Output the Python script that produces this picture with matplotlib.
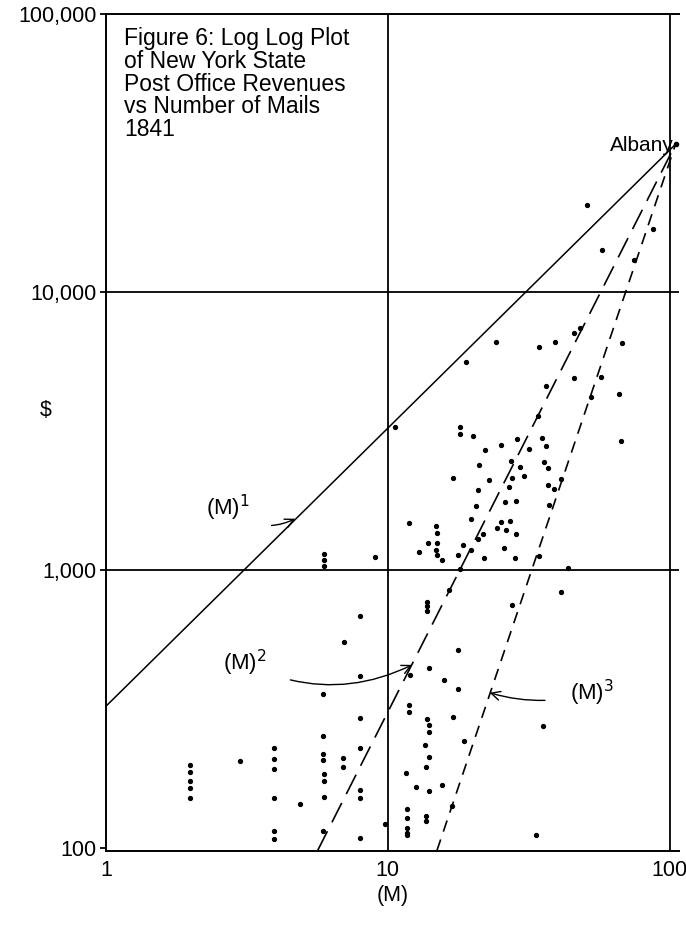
import numpy as np
import matplotlib.pyplot as plt

plt.rcParams['font.family'] = ['Liberation Sans', 'DejaVu Sans']

# ---- data ----
# number of mails (M) and post office revenue ($) for each office
mails = [
    50.8, 87, 57.8, 75,
    24.2, 18.9, 10.6, 34.5, 39.1, 45.7, 48.0, 67.7, 36.4, 45.9, 57.3, 52.8,
    66.3, 34.1, 67.4, 18.1, 18.0, 20.0, 25.2, 28.7, 35.3, 36.5, 22.1, 31.8,
    21.0, 27.4, 29.4, 35.8, 36.9, 17.0, 22.8, 27.7, 30.4, 41.1, 26.9, 20.9,
    37.0, 38.8, 26.0, 28.4, 20.5, 37.4, 19.8, 11.9, 14.8, 14.9, 25.2, 27.2,
    24.5, 26.3, 28.6, 21.7, 20.9, 13.9, 14.9, 18.5, 14.8, 12.9, 14.9, 17.7,
    19.8, 25.9, 15.6, 21.9, 28.2, 34.3, 18.0, 43.6,
    5.93, 5.93, 5.93, 9.02,
    7.96, 6.97, 8.0, 5.9, 7.98, 5.89, 7.98, 3.95, 3.95, 3.95, 2.98, 5.89,
    5.89, 6.95, 6.95, 5.96, 5.96, 5.96, 7.98, 7.98, 1.98, 1.98, 1.98, 1.98,
    1.98, 3.95, 4.88, 3.95, 3.95, 5.89, 7.98, 9.78,
    41.2, 16.5, 13.8, 13.8, 13.8, 27.7, 17.7, 14.0, 11.95, 15.8, 17.7, 11.85,
    11.85, 17.0, 35.6, 13.8, 14.0, 14.0, 18.6, 13.5, 14.0, 13.7, 11.6, 12.6,
    15.6, 14.0, 16.9, 11.7, 11.7, 11.7, 11.7, 11.7, 13.7, 13.7, 33.7,
]
revenue = [
    20500, 16900, 14200, 13000,
    6630, 5600, 3275, 6325, 6610, 7145, 7400, 6580, 4580, 4920, 4960, 4180,
    4300, 3580, 2920, 3275, 3085, 3040, 2815, 2950, 2990, 2800, 2700, 2735,
    2385, 2470, 2345, 2445, 2330, 2145, 2105, 2145, 2180, 2130, 1990, 1935,
    2020, 1960, 1760, 1775, 1695, 1710, 1525, 1475, 1445, 1360, 1490, 1500,
    1420, 1395, 1350, 1350, 1295, 1250, 1250, 1235, 1185, 1160, 1135, 1130,
    1185, 1205, 1085, 1105, 1105, 1120, 1010, 1015,
    1145, 1085, 1030, 1110,
    681, 553, 415, 358, 294, 253, 230, 229, 209, 192, 206, 218,
    207, 211, 196, 184, 174, 153, 162, 152, 199, 188, 174, 164,
    151, 151, 144, 115, 108, 115, 109, 122,
    837, 848, 770, 740, 714, 750, 515, 446, 418, 402, 374, 326,
    309, 297, 274, 291, 277, 261, 242, 235, 213, 196, 186, 166,
    168, 161, 142, 138, 128, 118, 113, 111, 130, 125, 111,
]

albany_m = 105
albany_rev = 34000

y_ticks = [100, 1000, 10000, 100000]
y_labels = ['100', '1,000', '10,000', '100,000']
x_ticks = [1, 10, 100]
x_labels = ['1', '10', '100']

title = "Figure 6: Log Log Plot\nof New York State\nPost Office Revenues\nvs Number of Mails\n1841"

# ---- figure ----
fig = plt.figure(figsize=(6.86, 9.26), dpi=100)
ax = fig.add_axes([0.1545, 0.0815, 0.8353, 0.9034])
ax.set_xscale('log')
ax.set_yscale('log')
ax.set_xlim(1, 108)
ax.set_ylim(98, 100000)

# grid lines at the decades
for xv in [10, 100]:
    ax.axvline(xv, color='black', lw=1.3, zorder=1)
for yv in [1000, 10000]:
    ax.axhline(yv, color='black', lw=1.3, zorder=1)

# reference lines M^1, M^2, M^3 through Albany
def power_line(p, lo):
    m = np.geomspace(lo, albany_m, 200)
    return m, albany_rev * (m / albany_m) ** p

m1, r1 = power_line(1, 1)
ax.plot(m1, r1, color='black', lw=1.1)
m2, r2 = power_line(2, albany_m * (98 / albany_rev) ** 0.5)
ax.plot(m2, r2, color='black', lw=1.2, dashes=(13, 6))
m3, r3 = power_line(3, albany_m * (98 / albany_rev) ** (1 / 3))
ax.plot(m3, r3, color='black', lw=1.2, dashes=(7, 5))

ax.plot(mails, revenue, 'o', color='black', ms=2.8, zorder=3)
ax.plot([albany_m], [albany_rev], 'o', color='black', ms=3)
ax.text(albany_m * 0.985, albany_rev * 0.99, 'Albany', ha='right', va='center', fontsize=15)

# handwritten-style labels with arrows
ax.annotate('(M)$^1$', xy=(4.7, 1530), xytext=(2.7, 1680), fontsize=16,
            ha='center', va='center',
            arrowprops=dict(arrowstyle='->', color='black', lw=1,
                            connectionstyle='arc3,rad=0.35', shrinkA=14, shrinkB=0))
ax.annotate('(M)$^2$', xy=(12.2, 456), xytext=(3.1, 465), fontsize=16,
            ha='center', va='center',
            arrowprops=dict(arrowstyle='->', color='black', lw=1,
                            connectionstyle='arc3,rad=0.25', shrinkA=16, shrinkB=0))
ax.annotate('(M)$^3$', xy=(23.0, 362), xytext=(53, 362), fontsize=16,
            ha='center', va='center',
            arrowprops=dict(arrowstyle='->', color='black', lw=1,
                            connectionstyle='arc3,rad=-0.15', shrinkA=16, shrinkB=0))

ax.text(0.031, 0.984, title, transform=ax.transAxes, ha='left', va='top',
        fontsize=16.5, linespacing=0.98)

# axes styling
ax.spines['right'].set_visible(False)
for s in ['left', 'top', 'bottom']:
    ax.spines[s].set_linewidth(1.4)
ax.set_yticks(y_ticks)
ax.set_yticklabels(y_labels, fontsize=15.5)
ax.set_xticks(x_ticks)
ax.set_xticklabels(x_labels, fontsize=15.5)
ax.minorticks_off()
ax.tick_params(axis='y', length=4, width=1.3, pad=3)
ax.tick_params(axis='x', length=0, pad=7)
ax.set_xlabel('(M)', fontsize=15.5, labelpad=3)
ax.set_ylabel('$', fontsize=15.5, rotation=0)
ax.yaxis.set_label_coords(-0.106, 0.514)

fig.savefig('out.png', dpi=100)
